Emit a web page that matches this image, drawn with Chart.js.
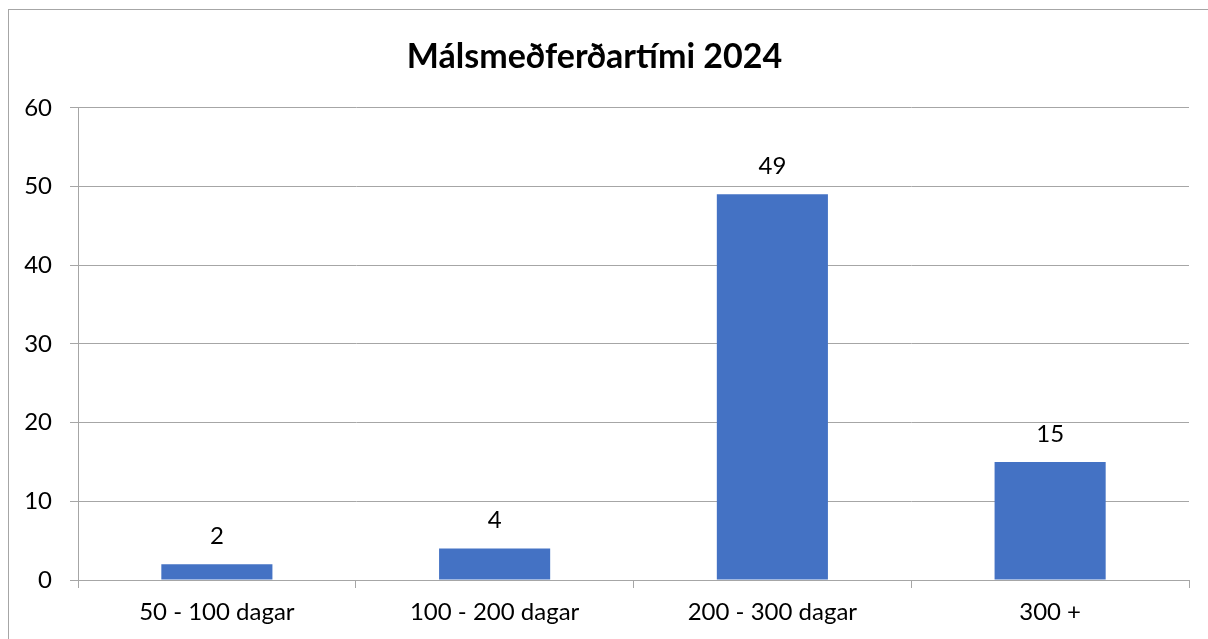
<!DOCTYPE html>
<html>
<head>
<meta charset="utf-8">
<script src="https://cdn.jsdelivr.net/npm/chart.js@4"></script>
<style>
    html, body { margin: 0; padding: 0; background: #fff; overflow: hidden; }
    #wrap { position: absolute; left: 0; top: 0; width: 1208px; height: 639px; }
    #frame { position: absolute; left: 8px; top: 9px; width: 1400px; height: 800px; border: 1px solid #a6a6a6; pointer-events: none; }
</style>
</head>
<body>
<div id="wrap"><canvas id="chart"></canvas></div>
<div id="frame"></div>
<script>
    var categories = ['50 - 100 dagar', '100 - 200 dagar', '200 - 300 dagar', '300 +'];
    var values = [2, 4, 49, 15];
    var yTicks = [0, 10, 20, 30, 40, 50, 60];
    var chartTitle = 'Málsmeðferðartími 2024';

    var fontFamily = 'Lato, "Liberation Sans", sans-serif';

    // labels above each bar, positioned from the bar elements
    var valueLabels = {
        id: 'valueLabels',
        afterDatasetsDraw: function (chart) {
            var ctx = chart.ctx;
            var meta = chart.getDatasetMeta(0);
            ctx.save();
            ctx.font = '24px ' + fontFamily;
            ctx.fillStyle = '#000';
            ctx.textAlign = 'center';
            ctx.textBaseline = 'middle';
            for (var i = 0; i < meta.data.length; i++) {
                var bar = meta.data[i];
                ctx.fillText(String(values[i]), bar.x, bar.y - 28);
            }
            ctx.restore();
        }
    };

    var ctx = document.getElementById('chart').getContext('2d');
    new Chart(ctx, {
        type: 'bar',
        data: {
            labels: categories,
            datasets: [{
                data: values,
                backgroundColor: '#4472C4',
                borderWidth: 0,
                barPercentage: 0.4,
                categoryPercentage: 1
            }]
        },
        options: {
            responsive: true,
            maintainAspectRatio: false,
            animation: false,
            layout: { padding: { left: 0, right: 19, top: 0, bottom: 0 } },
            plugins: {
                legend: { display: false },
                tooltip: { enabled: false },
                title: {
                    display: true,
                    text: chartTitle,
                    color: '#000',
                    font: { family: fontFamily, size: 34, weight: 'bold' },
                    padding: { top: 37, bottom: 30 }
                }
            },
            scales: {
                x: {
                    grid: {
                        offset: true,
                        drawOnChartArea: false,
                        drawTicks: true,
                        tickLength: 8,
                        color: '#a6a6a6'
                    },
                    border: { display: true, color: '#a6a6a6' },
                    ticks: {
                        color: '#000',
                        padding: 10,
                        font: { family: fontFamily, size: 24 }
                    },
                    afterFit: function (scale) { scale.height = 59; }
                },
                y: {
                    min: 0,
                    max: 60,
                    afterBuildTicks: function (scale) {
                        scale.ticks = yTicks.map(function (v) { return { value: v }; });
                    },
                    grid: {
                        color: '#a6a6a6',
                        tickLength: 8
                    },
                    border: { display: true, color: '#a6a6a6' },
                    ticks: {
                        color: '#000',
                        padding: 18,
                        font: { family: fontFamily, size: 24 }
                    },
                    afterFit: function (scale) { scale.width = 78; }
                }
            }
        },
        plugins: [valueLabels]
    });
</script>
</body>
</html>
